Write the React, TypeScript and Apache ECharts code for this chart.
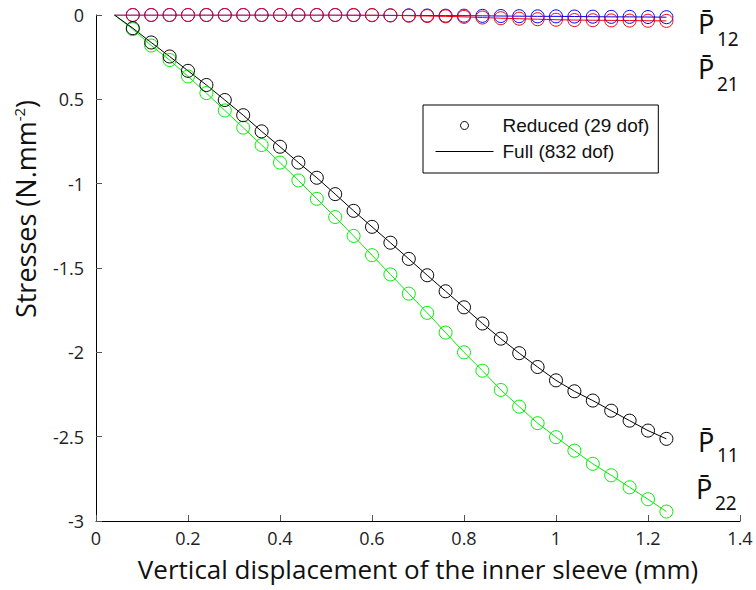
import React, { useEffect, useRef } from "react";
import * as echarts from "echarts";

// Displacement (mm) of the reduced-model sample points
const xReduced = [0.08, 0.12, 0.16, 0.2, 0.24, 0.28, 0.32, 0.36, 0.4, 0.44, 0.48, 0.52, 0.56, 0.6, 0.64, 0.68, 0.72, 0.76, 0.8, 0.84, 0.88, 0.92, 0.96, 1.0, 1.04, 1.08, 1.12, 1.16, 1.2, 1.24];
// Stresses (N.mm-2)
const p11 = [-0.078, -0.163, -0.246, -0.331, -0.415, -0.504, -0.594, -0.69, -0.781, -0.875, -0.965, -1.062, -1.161, -1.256, -1.35, -1.446, -1.543, -1.638, -1.733, -1.829, -1.919, -2.005, -2.087, -2.166, -2.231, -2.286, -2.346, -2.405, -2.464, -2.513];
const p22 = [-0.084, -0.181, -0.267, -0.364, -0.463, -0.566, -0.668, -0.771, -0.875, -0.981, -1.09, -1.198, -1.31, -1.424, -1.538, -1.652, -1.766, -1.883, -2.0, -2.109, -2.223, -2.322, -2.42, -2.503, -2.583, -2.661, -2.729, -2.8, -2.871, -2.944];
const p12 = [0, 0, 0, 0, 0, 0, 0, 0, 0, 0, 0, 0, -0.001, -0.001, -0.002, -0.002, -0.003, -0.004, -0.004, -0.005, -0.006, -0.007, -0.008, -0.008, -0.009, -0.01, -0.011, -0.011, -0.012, -0.013];
const p21 = [0, 0, 0, 0, 0, 0, 0, 0, 0, 0, 0, 0, 0, 0, -0.002, -0.004, -0.006, -0.008, -0.011, -0.015, -0.019, -0.022, -0.025, -0.028, -0.03, -0.031, -0.032, -0.033, -0.034, -0.035];
// Full model curves start here
const fullStartX = 0.04;
const fullStartY = 0;

const yTickValues = [-3, -2.5, -2, -1.5, -1, -0.5, 0];
const yTickLabels = ["-3", "-2.5", "-2", "-1.5", "-1", "0.5", "0"];

const legendReduced = "Reduced (29 dof)";
const legendFull = "Full (832 dof)";

const FONT = "'Open Sans', 'Noto Sans', sans-serif";

function pairs(xs: number[], ys: number[]) {
  return xs.map((x, i) => [x, ys[i]]);
}

export default function App() {
  const ref = useRef<HTMLDivElement>(null);
  useEffect(() => {
    if (!ref.current) return;
    const chart = echarts.init(ref.current, undefined, { renderer: "svg" });

    const defs = [
      { ys: p12, color: "#0000ff", reducedName: "P12 reduced", fullName: "P12 full" },
      { ys: p21, color: "#ff0000", reducedName: "P21 reduced", fullName: "P21 full" },
      { ys: p22, color: "#00ee00", reducedName: "P22 reduced", fullName: "P22 full" },
      { ys: p11, color: "#000000", reducedName: legendReduced, fullName: legendFull },
    ];

    const series: any[] = [];
    defs.forEach((d) => {
      series.push({
        name: d.fullName,
        type: "line",
        data: [[fullStartX, fullStartY], ...pairs(xReduced, d.ys)],
        symbol: "none",
        showSymbol: false,
        lineStyle: { color: d.color, width: 1 },
        itemStyle: { color: d.color },
        z: 3,
      });
      series.push({
        name: d.reducedName,
        type: "scatter",
        data: pairs(xReduced, d.ys),
        symbol: "circle",
        symbolSize: 13,
        itemStyle: { color: "transparent", borderColor: d.color, borderWidth: 1, opacity: 1 },
        z: 4,
      });
    });

    const pLabels = [
      { sub: "12", px: 698, py: 23, sx: 717, sy: 39 },
      { sub: "21", px: 698, py: 68, sx: 717, sy: 84 },
      { sub: "11", px: 698, py: 441, sx: 717, sy: 455 },
      { sub: "22", px: 696, py: 488, sx: 715, sy: 503 },
    ];
    const graphic: any[] = [];
    pLabels.forEach((l) => {
      graphic.push({
        type: "text",
        x: l.px,
        y: l.py,
        style: { text: "P\u0304", fontSize: 27, fontFamily: "'Noto Sans', sans-serif", fill: "#111", align: "left", verticalAlign: "middle" },
      });
      graphic.push({
        type: "text",
        x: l.sx,
        y: l.sy,
        style: { text: l.sub, fontSize: 19, fontFamily: "'Noto Sans', sans-serif", fill: "#111", align: "left", verticalAlign: "middle" },
      });
    });
    graphic.push({
      type: "text",
      x: 25,
      y: 209,
      rotation: Math.PI / 2,
      style: {
        text: "Stresses (N.mm{sup|-2})",
        fontSize: 27,
        fontFamily: FONT,
        fill: "#111",
        align: "center",
        verticalAlign: "middle",
        rich: { sup: { fontSize: 15, fontFamily: FONT, fill: "#111", verticalAlign: "top" } },
      },
    });

    chart.setOption({
      animation: false,
      backgroundColor: "#fff",
      grid: { left: 96, right: 16, top: 15, bottom: 69, containLabel: false },
      legend: {
        data: [
          { name: legendReduced, icon: "circle", itemStyle: { color: "transparent", borderColor: "#000", borderWidth: 1 } },
          { name: legendFull, itemStyle: { opacity: 0 }, lineStyle: { color: "#000", width: 1, opacity: 1 } },
        ],
        orient: "vertical",
        left: 423,
        top: 105,
        itemWidth: 58,
        itemHeight: 8,
        itemGap: 7,
        padding: [11, 9, 12, 12],
        borderColor: "#000",
        borderWidth: 1,
        backgroundColor: "#fff",
        textStyle: { fontFamily: "'Liberation Sans', Arial, sans-serif", fontSize: 19, lineHeight: 19, color: "#111", padding: [0, 0, 0, 4] },
        selectedMode: false,
      },
      xAxis: {
        type: "value",
        min: 0,
        max: 1.4,
        interval: 0.2,
        name: "Vertical displacement of the inner sleeve (mm)",
        nameLocation: "middle",
        nameGap: 35,
        nameTextStyle: { fontFamily: FONT, fontSize: 26, lineHeight: 26, color: "#111" },
        axisLine: { show: true, onZero: false, lineStyle: { color: "#000", width: 1 } },
        axisTick: { show: true, inside: true, length: 6, lineStyle: { color: "#555" } },
        axisLabel: { fontFamily: FONT, fontSize: 18, lineHeight: 18, color: "#222", margin: 8, formatter: (v: number) => String(Math.round(v * 10) / 10) },
        splitLine: { show: false },
      },
      yAxis: {
        type: "value",
        min: -3,
        max: 0,
        interval: 0.5,
        axisLine: { show: true, onZero: false, lineStyle: { color: "#000", width: 1 } },
        axisTick: { show: true, inside: true, length: 6, lineStyle: { color: "#555" } },
        axisLabel: {
          fontFamily: FONT,
          fontSize: 18,
          color: "#222",
          margin: 12,
          formatter: (v: number) => {
            const i = yTickValues.findIndex((t) => Math.abs(t - v) < 1e-9);
            return i >= 0 ? yTickLabels[i] : String(v);
          },
        },
        splitLine: { show: false },
      },
      graphic,
      series,
    });
    return () => chart.dispose();
  }, []);
  return <div ref={ref} style={{ position: "fixed", left: 0, top: 0, width: 756, height: 590 }} />;
}
